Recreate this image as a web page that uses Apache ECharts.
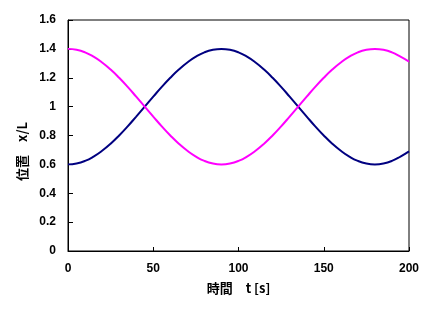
<!DOCTYPE html>
<html><head><meta charset="utf-8">
<script src="https://cdn.jsdelivr.net/npm/echarts@6/dist/echarts.min.js"></script>
<style>html,body{margin:0;padding:0;background:#fff}#c{width:434px;height:309px}</style>
</head><body><div id="c"></div>
<script>
var times = [0,5,10,15,20,25,30,35,40,45,50,55,60,65,70,75,80,85,90,95,100,105,110,115,120,125,130,135,140,145,150,155,160,165,170,175,180,185,190,195,200];
var navy = [0.600,0.606,0.624,0.654,0.694,0.743,0.800,0.863,0.931,1.000,1.069,1.137,1.200,1.257,1.306,1.346,1.376,1.394,1.400,1.394,1.376,1.346,1.306,1.257,1.200,1.137,1.069,1.000,0.931,0.863,0.800,0.743,0.694,0.654,0.624,0.606,0.600,0.606,0.624,0.654,0.690];
var magenta = [1.400,1.394,1.376,1.346,1.306,1.257,1.200,1.137,1.069,1.000,0.931,0.863,0.800,0.743,0.694,0.654,0.624,0.606,0.600,0.606,0.624,0.654,0.694,0.743,0.800,0.863,0.931,1.000,1.069,1.137,1.200,1.257,1.306,1.346,1.376,1.394,1.400,1.394,1.376,1.346,1.312];
var xTitle = '時間　t [s]';
var yTitle = '位置　x/L';

function pairs(v){ return times.map(function(t,i){ return [t, v[i]]; }); }
var lblFont = {color:'#000', fontFamily:'Liberation Sans, Arial, sans-serif', fontWeight:'bold', fontSize:12};
var chart = echarts.init(document.getElementById('c'), null, {renderer:'canvas'});
chart.setOption({
  animation:false,
  backgroundColor:'#fff',
  grid:{left:68, right:25, top:20, bottom:58, show:true, borderColor:'#000', borderWidth:1, backgroundColor:'transparent'},
  xAxis:{type:'value', min:0, max:200, interval:50,
    axisLine:{show:true, lineStyle:{color:'#000', width:1}},
    axisTick:{show:true, inside:true, length:4, lineStyle:{color:'#000'}},
    axisLabel:Object.assign({margin:12}, lblFont),
    splitLine:{show:false},
    name:xTitle, nameLocation:'middle', nameGap:31,
    nameTextStyle:{color:'#000', fontFamily:'Noto Sans CJK JP', fontWeight:'bold', fontSize:13}
  },
  yAxis:{type:'value', min:0, max:1.6, interval:0.2,
    axisLine:{show:true, lineStyle:{color:'#000', width:1}},
    axisTick:{show:true, inside:true, length:5, lineStyle:{color:'#000'}},
    axisLabel:Object.assign({margin:12}, lblFont),
    splitLine:{show:false},
    name:yTitle, nameLocation:'middle', nameGap:39,
    nameTextStyle:{color:'#000', fontFamily:'Noto Sans CJK JP', fontWeight:'bold', fontSize:13, padding:[0,32,0,0]}
  },
  series:[
    {type:'line', data:pairs(navy), smooth:true, showSymbol:false, lineStyle:{color:'#000080', width:2}, itemStyle:{color:'#000080'}},
    {type:'line', data:pairs(magenta), smooth:true, showSymbol:false, lineStyle:{color:'#FF00FF', width:2}, itemStyle:{color:'#FF00FF'}}
  ]
});
</script></body></html>
